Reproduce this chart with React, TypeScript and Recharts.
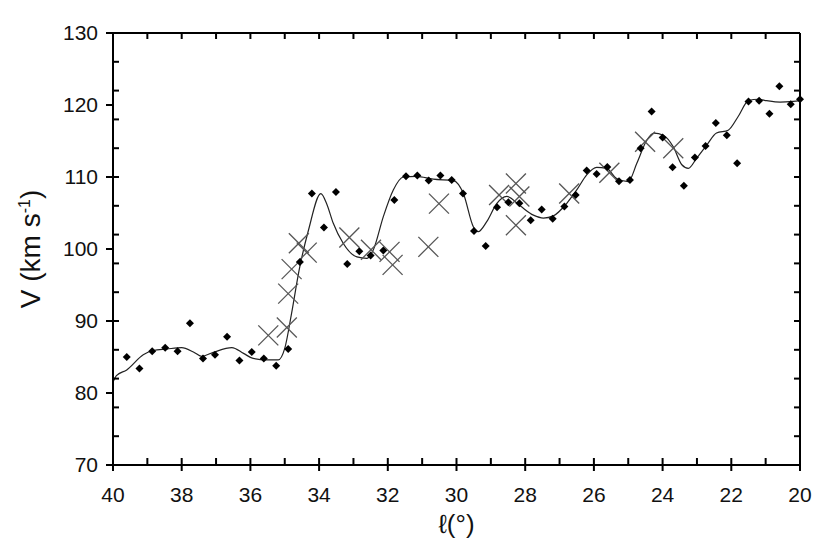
import { ComposedChart, Line, Scatter, XAxis, YAxis } from 'recharts'

// fitted rotation curve (longitude, velocity)
const curveL = [40.0, 39.9, 39.6, 39.12, 38.83, 38.44, 38.0, 37.66, 37.42, 37.08, 36.54, 36.2, 35.92, 35.53, 35.19, 35.0, 34.8, 34.58, 34.31, 33.95, 33.78, 33.59, 33.3, 32.9, 32.61, 32.42, 32.13, 31.84, 31.55, 31.16, 30.68, 30.09, 29.8, 29.51, 29.37, 29.12, 28.83, 28.54, 28.15, 27.76, 27.47, 27.18, 26.79, 26.5, 26.21, 25.92, 25.63, 25.34, 25.0, 24.75, 24.46, 24.25, 23.98, 23.69, 23.44, 23.25, 23.01, 22.72, 22.43, 22.09, 21.8, 21.5, 21.21, 20.97, 20.58, 20.2, 20.0]
const curveV = [81.5, 82.4, 83.2, 85.3, 85.9, 86.1, 86.3, 85.7, 85.1, 85.65, 86.3, 85.5, 84.8, 84.6, 84.6, 86.2, 91.1, 97.1, 102.6, 107.7, 106.3, 103.6, 100.8, 98.9, 98.7, 99.9, 104.5, 108.2, 110.0, 110.1, 109.7, 109.5, 107.7, 103.1, 102.4, 103.8, 106.3, 107.3, 106.0, 104.7, 104.3, 104.6, 106.35, 108.2, 110.3, 111.35, 111.2, 109.8, 109.35, 111.9, 115.1, 116.1, 115.8, 114.2, 111.7, 111.2, 112.6, 114.4, 116.1, 116.5, 118.4, 120.6, 120.8, 120.6, 120.4, 120.5, 120.6]

// tangent point velocities (dots)
const dotL = [39.6, 39.23, 38.86, 38.48, 38.12, 37.76, 37.38, 37.03, 36.68, 36.32, 35.96, 35.61, 35.25, 34.9, 34.56, 34.21, 33.86, 33.51, 33.18, 32.83, 32.5, 32.13, 31.81, 31.47, 31.14, 30.81, 30.47, 30.14, 29.81, 29.49, 29.15, 28.82, 28.49, 28.17, 27.84, 27.52, 27.2, 26.86, 26.53, 26.21, 25.92, 25.61, 25.27, 24.95, 24.64, 24.32, 24.0, 23.71, 23.38, 23.06, 22.75, 22.45, 22.13, 21.83, 21.5, 21.19, 20.89, 20.6, 20.27, 20.0]
const dotV = [85.0, 83.4, 85.8, 86.3, 85.8, 89.7, 84.8, 85.3, 87.8, 84.5, 85.7, 84.8, 83.8, 86.1, 98.2, 107.7, 103.0, 107.9, 97.9, 99.7, 99.1, 99.8, 106.8, 110.1, 110.2, 109.5, 110.2, 109.6, 107.7, 102.5, 100.4, 105.8, 106.5, 106.35, 104.0, 105.5, 104.2, 105.9, 107.5, 110.9, 110.4, 111.4, 109.4, 109.6, 114.0, 119.1, 115.5, 111.35, 108.8, 112.7, 114.3, 117.5, 115.8, 111.9, 120.5, 120.6, 118.8, 122.6, 120.1, 120.8]

// other measurements (crosses)
const crossL = [35.48, 34.94, 34.9, 34.8, 34.59, 34.36, 33.12, 32.49, 31.95, 31.86, 30.82, 30.51, 28.76, 28.27, 28.17, 28.27, 26.72, 25.55, 24.51, 23.69]
const crossV = [88.0, 89.1, 93.8, 97.2, 100.8, 99.5, 101.6, 99.9, 99.6, 97.8, 100.3, 106.3, 107.5, 109.1, 107.3, 103.3, 107.7, 110.6, 114.9, 114.0]

const majorX = [40, 38, 36, 34, 32, 30, 28, 26, 24, 22, 20]
const minorX = [40, 39, 38, 37, 36, 35, 34, 33, 32, 31, 30, 29, 28, 27, 26, 25, 24, 23, 22, 21, 20]
const majorY = [70, 80, 90, 100, 110, 120, 130]
const minorY = [70, 72, 74, 76, 78, 80, 82, 84, 86, 88, 90, 92, 94, 96, 98, 100, 102, 104, 106, 108, 110, 112, 114, 116, 118, 120, 122, 124, 126, 128, 130]

const curve = curveL.map((l, i) => ({ l, v: curveV[i] }))
const dots = dotL.map((l, i) => ({ l, v: dotV[i] }))
const crosses = crossL.map((l, i) => ({ l, v: crossV[i] }))

const FONT = '"Liberation Sans", Arial, sans-serif'
const tickStyle = { fill: '#111', fontSize: 21, fontFamily: FONT }

// draws nothing: used for label-less tick axes and the hidden helper series
const Nothing = () => <g />

const Diamond = (props: any) => {
    const { cx, cy } = props
    const r = 4
    return <polygon points={`${cx},${cy - r} ${cx + r},${cy} ${cx},${cy + r} ${cx - r},${cy}`} fill="#000" />
}

const Cross = (props: any) => {
    const { cx, cy } = props
    const r = 10
    return (
        <g stroke="#555" strokeWidth={1.3}>
            <line x1={cx - r} y1={cy - r} x2={cx + r} y2={cy + r} />
            <line x1={cx - r} y1={cy + r} x2={cx + r} y2={cy - r} />
        </g>
    )
}

const YLabel = (props: any) => {
    const vb = props.viewBox
    const x = vb.x + 40
    const y = vb.y + vb.height / 2
    return (
        <text x={x} y={y} transform={`rotate(-90 ${x} ${y})`} textAnchor="middle" fill="#111" fontSize={28} fontFamily={FONT}>
            V (km s<tspan dy={-10} fontSize={16}>-1</tspan><tspan dy={10}>)</tspan>
        </text>
    )
}

const XLabel = (props: any) => {
    const vb = props.viewBox
    return (
        <text x={vb.x + vb.width / 2} y={vb.y + 68} textAnchor="middle" fill="#111" fontSize={26} fontFamily={FONT}>
            ℓ(°)
        </text>
    )
}

export default function App() {
    return (
        <div style={{ position: 'absolute', left: 0, top: 0, background: '#fff' }}>
            <ComposedChart width={830} height={555} margin={{ top: 33, right: 30, bottom: 0, left: 0 }}>
                <XAxis
                    xAxisId="b"
                    type="number"
                    dataKey="l"
                    domain={[20, 40]}
                    reversed
                    ticks={majorX}
                    height={90}
                    stroke="#000"
                    axisLine={{ strokeWidth: 2 }}
                    tickLine={{ strokeWidth: 2 }}
                    tickSize={6}
                    tickMargin={16}
                    tick={tickStyle}
                    label={{ content: XLabel }}
                />
                <XAxis xAxisId="bi" type="number" dataKey="l" domain={[20, 40]} reversed orientation="bottom" mirror ticks={minorX} axisLine={false} stroke="#000" tickLine={{ strokeWidth: 2 }} tickSize={7} tick={Nothing} />
                <XAxis xAxisId="t" type="number" dataKey="l" domain={[20, 40]} reversed orientation="top" mirror ticks={minorX} stroke="#000" axisLine={{ strokeWidth: 2 }} tickLine={{ strokeWidth: 2 }} tickSize={6} tick={Nothing} />
                <YAxis
                    yAxisId="l"
                    type="number"
                    domain={[70, 130]}
                    ticks={majorY}
                    width={113}
                    stroke="#000"
                    axisLine={{ strokeWidth: 2 }}
                    tickLine={{ strokeWidth: 2 }}
                    tickSize={7}
                    tickMargin={8}
                    tick={tickStyle}
                    label={{ content: YLabel }}
                />
                <YAxis yAxisId="li" type="number" domain={[70, 130]} orientation="left" mirror ticks={minorY} axisLine={false} stroke="#000" tickLine={{ strokeWidth: 2 }} tickSize={6} tick={Nothing} />
                <YAxis yAxisId="r" type="number" domain={[70, 130]} orientation="right" mirror ticks={minorY} stroke="#000" axisLine={{ strokeWidth: 2 }} tickLine={{ strokeWidth: 2 }} tickSize={6} tick={Nothing} />
                {/* invisible series so the tick-only axes get a scale */}
                <Scatter xAxisId="bi" yAxisId="li" data={dots} dataKey="v" shape={Nothing} isAnimationActive={false} />
                <Scatter xAxisId="t" yAxisId="r" data={dots} dataKey="v" shape={Nothing} isAnimationActive={false} />
                <Line xAxisId="b" yAxisId="l" data={curve} dataKey="v" type="monotone" stroke="#222" strokeWidth={1.2} dot={false} isAnimationActive={false} />
                <Scatter xAxisId="b" yAxisId="l" data={crosses} dataKey="v" shape={Cross} isAnimationActive={false} />
                <Scatter xAxisId="b" yAxisId="l" data={dots} dataKey="v" shape={Diamond} isAnimationActive={false} />
            </ComposedChart>
        </div>
    )
}
